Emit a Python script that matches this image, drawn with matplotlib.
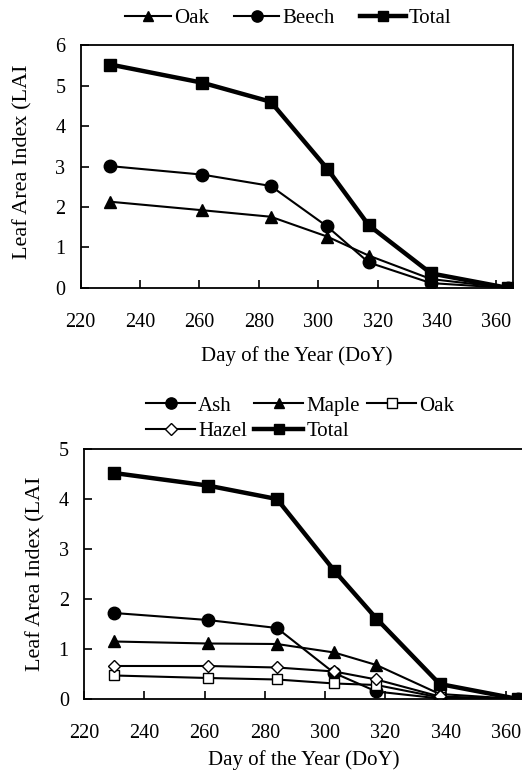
import matplotlib
matplotlib.use("Agg")
import matplotlib.pyplot as plt

plt.rcParams['font.family'] = ['Liberation Serif', 'DejaVu Serif']
plt.rcParams['font.size'] = 15

# day of year of each sampling
doy = [230, 261, 284, 303, 317, 338, 364]

# top panel
top_oak = [2.13, 1.92, 1.76, 1.27, 0.80, 0.22, 0.0]
top_beech = [3.01, 2.80, 2.52, 1.52, 0.63, 0.12, 0.0]
top_total = [5.52, 5.07, 4.60, 2.95, 1.55, 0.36, 0.0]

# bottom panel
ash = [1.72, 1.58, 1.42, 0.52, 0.15, 0.01, 0.0]
maple = [1.15, 1.11, 1.10, 0.93, 0.68, 0.10, 0.0]
oak = [0.47, 0.42, 0.39, 0.31, 0.28, 0.03, 0.0]
hazel = [0.66, 0.66, 0.63, 0.55, 0.39, 0.05, 0.0]
total = [4.52, 4.27, 4.00, 2.57, 1.61, 0.30, 0.0]

ylab = "Leaf Area Index (LAI"
xlab = "Day of the Year (DoY)"


def style_axes(ax, ymax):
    ax.set_xlim(220, 365.5)
    ax.set_ylim(0, ymax)
    ax.set_xticks(range(220, 361, 20))
    ax.set_yticks(range(0, ymax + 1))
    ax.tick_params(direction='in', length=6, width=1.2, labelsize=14.5)
    ax.tick_params(axis='y', pad=11)
    ax.tick_params(axis='x', pad=18)
    for s in ax.spines.values():
        s.set_linewidth(1.3)
        s.set_color('black')
    ax.set_xlabel(xlab, fontsize=15)
    ax.set_ylabel(ylab, fontsize=16)


fig = plt.figure(figsize=(5.22, 7.71), dpi=100)

thin = dict(color='black', lw=1.5)
thick = dict(color='black', lw=3.2, marker='s', ms=8.5)
leg_kw = dict(loc='center', frameon=False, fontsize=15, markerscale=0.9,
              handletextpad=0.15)

ax1 = fig.add_axes([0.1546, 0.6265, 0.8276, 0.315])
h_oak, = ax1.plot(doy, top_oak, marker='^', ms=8.5, label='Oak', **thin)
h_beech, = ax1.plot(doy, top_beech, marker='o', ms=9, label='Beech', **thin)
h_tot, = ax1.plot(doy, top_total, label='Total', **thick)
style_axes(ax1, 6)
ax1.xaxis.labelpad = 10
ax1.yaxis.set_label_coords(-0.112, 0.52)
fig.legend(handles=[h_oak, h_beech, h_tot], bbox_to_anchor=(0.552, 0.976),
           ncol=3, columnspacing=1.2, handlelength=2.2, **leg_kw)

ax2 = fig.add_axes([0.161, 0.0934, 0.84, 0.3242])
h_ash, = ax2.plot(doy, ash, marker='o', ms=9, label='Ash', **thin)
h_maple, = ax2.plot(doy, maple, marker='^', ms=8.5, label='Maple', **thin)
h_oak2, = ax2.plot(doy, oak, marker='s', ms=7.5, mfc='white', label='Oak', **thin)
h_hazel, = ax2.plot(doy, hazel, marker='D', ms=6.5, mfc='white', label='Hazel', **thin)
h_tot2, = ax2.plot(doy, total, label='Total', **thick)
style_axes(ax2, 5)
ax2.xaxis.labelpad = 5
ax2.yaxis.set_label_coords(-0.087, 0.5)
fig.legend(handles=[h_ash, h_hazel, h_maple, h_tot2, h_oak2],
           bbox_to_anchor=(0.575, 0.457), ncol=3, columnspacing=0.35,
           labelspacing=0.3, handlelength=2.35, **leg_kw)

fig.savefig('out.png', dpi=100)
